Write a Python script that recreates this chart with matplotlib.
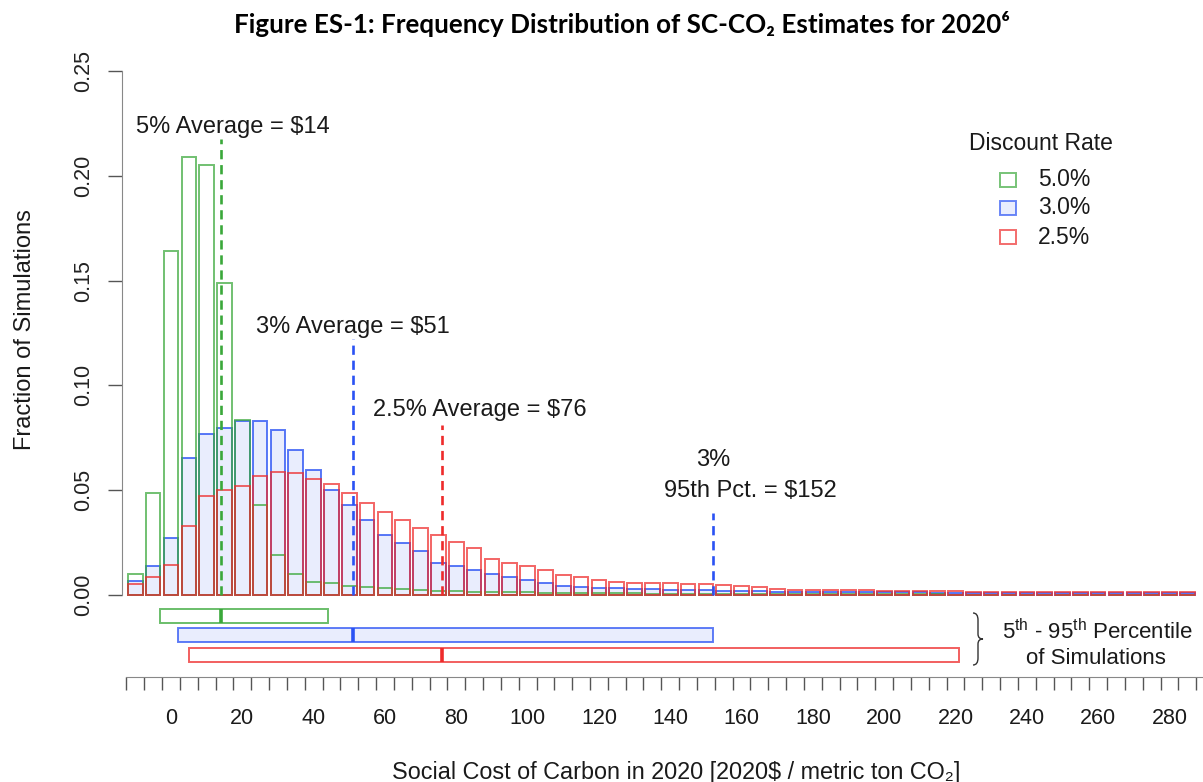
import matplotlib

matplotlib.use('Agg')

import matplotlib.pyplot as plt
import numpy as np
from matplotlib.patches import Rectangle, PathPatch
from matplotlib.path import Path

plt.rcParams['font.family'] = ['Liberation Sans', 'DejaVu Sans']
plt.rcParams['mathtext.fontset'] = 'custom'
plt.rcParams['mathtext.rm'] = 'Liberation Sans'

# histogram bins (centre of each 5$ bin)
bin_centers = np.arange(-10, 290, 5)

rate5 = [0.0100, 0.0487, 0.1640, 0.2090, 0.2050, 0.1490, 0.0837, 0.0430, 0.0191, 0.0100,
         0.0064, 0.0057, 0.0045, 0.0037, 0.0033, 0.0030, 0.0025, 0.0021, 0.0018, 0.0016,
         0.0014, 0.0013, 0.0012, 0.0011, 0.0010, 0.0009, 0.0009, 0.0008, 0.0008, 0.0007,
         0.0007, 0.0006, 0.0006, 0.0006, 0.0005, 0.0005, 0.0005, 0.0004, 0.0004, 0.0004,
         0.0004, 0.0003, 0.0003, 0.0003, 0.0003, 0.0003, 0.0002, 0.0002, 0.0002, 0.0002,
         0.0002, 0.0002, 0.0002, 0.0002, 0.0001, 0.0001, 0.0001, 0.0001, 0.0001, 0.0001]

rate3 = [0.0069, 0.0139, 0.0271, 0.0654, 0.0766, 0.0797, 0.0829, 0.0832, 0.0786, 0.0694,
         0.0595, 0.0500, 0.0428, 0.0356, 0.0286, 0.0247, 0.0212, 0.0155, 0.0139, 0.0120,
         0.0100, 0.0088, 0.0072, 0.0056, 0.0043, 0.0037, 0.0034, 0.0033, 0.0029, 0.0027,
         0.0025, 0.0024, 0.0022, 0.0021, 0.0019, 0.0018, 0.0016, 0.0015, 0.0015, 0.0014,
         0.0014, 0.0013, 0.0013, 0.0012, 0.0012, 0.0011, 0.0011, 0.0011, 0.0010, 0.0010,
         0.0010, 0.0010, 0.0009, 0.0009, 0.0009, 0.0009, 0.0008, 0.0008, 0.0008, 0.0008]

rate25 = [0.0053, 0.0085, 0.0142, 0.0327, 0.0470, 0.0502, 0.0521, 0.0566, 0.0589, 0.0582,
          0.0555, 0.0530, 0.0487, 0.0439, 0.0396, 0.0359, 0.0319, 0.0286, 0.0255, 0.0223,
          0.0174, 0.0155, 0.0139, 0.0120, 0.0094, 0.0088, 0.0072, 0.0064, 0.0059, 0.0057,
          0.0056, 0.0054, 0.0052, 0.0048, 0.0043, 0.0037, 0.0030, 0.0026, 0.0025, 0.0024,
          0.0025, 0.0023, 0.0020, 0.0019, 0.0018, 0.0018, 0.0017, 0.0016, 0.0016, 0.0015,
          0.0015, 0.0014, 0.0014, 0.0013, 0.0015, 0.0013, 0.0012, 0.0013, 0.0012, 0.0012]

# averages and 5th-95th percentiles
rate_labels = ['5.0%', '3.0%', '2.5%']
averages = [14, 51, 76]
pct05 = [-3, 2, 5]
pct95 = [44, 152, 221]

green = '#3aa83a'
blue = '#2a52f4'
red = '#ee2b2b'
blue_fill = '#e9edfd'

W, H = 1203, 782


def px_box(x0, y0, x1, y1):
    return [x0 / W, 1 - y1 / H, (x1 - x0) / W, (y1 - y0) / H]


def fx(x):
    return x / W


def fy(y):
    return 1 - y / H


fig = plt.figure(figsize=(W / 100, H / 100), dpi=100)

xlim = (-13.74, 289.4)

ax = fig.add_axes(px_box(122, 71, 1203, 601.3))
ax.patch.set_alpha(0)
ax.set_xlim(*xlim)
ax.set_ylim(-0.003, 0.25)

bw = 4.1
ax.bar(bin_centers, rate3, width=bw, color=blue_fill, edgecolor=blue + 'c8', linewidth=1.4, zorder=2)
ax.bar(bin_centers, rate5, width=bw, fill=False, edgecolor=green + 'b8', linewidth=1.4, zorder=3)
ax.bar(bin_centers, rate25, width=bw, fill=False, edgecolor=red + 'b8', linewidth=1.4, zorder=3)

for s in ['top', 'right', 'bottom']:
    ax.spines[s].set_visible(False)
ax.spines['left'].set_bounds(0, 0.25)
ax.spines['left'].set_color('#888888')
ax.tick_params(axis='x', bottom=False, labelbottom=False)
ax.set_yticks([0, 0.05, 0.10, 0.15, 0.20, 0.25])
ax.set_yticklabels(['0.00', '0.05', '0.10', '0.15', '0.20', '0.25'])
ax.tick_params(axis='y', length=10, width=1, color='#555555', labelsize=15.5,
               labelrotation=90, pad=10, labelcolor='#222222')
for t in ax.get_yticklabels():
    t.set_va('center')

# dashed average / percentile lines
dash = (0, (3.5, 2.2))
ax.vlines(averages[0], 0, 0.2177, colors=green, linestyles=dash, linewidth=1.9, zorder=4)
ax.vlines(averages[1], 0, 0.1220, colors=blue, linestyles=dash, linewidth=1.9, zorder=4)
ax.vlines(averages[2], 0, 0.0813, colors=red, linestyles=dash, linewidth=1.9, zorder=4)
ax.vlines(pct95[1], 0, 0.0392, colors=blue, linestyles=dash, linewidth=1.9, zorder=4)

tk = dict(fontsize=17, color='#1a1a1a', va='center')
ax.text(-9.8, 0.2233, '5% Average = $14', ha='left', **tk)
ax.text(51, 0.1279, '3% Average = $51', ha='center', **tk)
ax.text(56.6, 0.0883, '2.5% Average = $76', ha='left', **tk)
ax.text(152, 0.0644, '3%', ha='center', **tk)
ax.text(162.6, 0.0496, '95th Pct. = $152', ha='center', **tk)

# legend
fig.text(fx(1041), fy(143), 'Discount Rate', ha='center', va='center', fontsize=16.5, color='#1a1a1a')
leg_y = [179.5, 208, 237]
leg_face = ['white', blue_fill, 'white']
leg_edge = [green, blue, red]
for yy, lab, fc, ec in zip(leg_y, rate_labels, leg_face, leg_edge):
    fig.add_artist(Rectangle((fx(1000), fy(yy + 7)), 16 / W, 14 / H, transform=fig.transFigure,
                             facecolor=fc, edgecolor=ec + 'b0', linewidth=1.4))
    fig.text(fx(1038), fy(yy), lab, ha='left', va='center', fontsize=16.5, color='#1a1a1a')

# percentile bars
axb = fig.add_axes(px_box(122, 600, 1203, 677))
axb.patch.set_alpha(0)
axb.set_xlim(*xlim)
axb.set_ylim(0, 1)
rows = [0.79, 0.54, 0.29]
bh = 0.18
faces = ['white', blue_fill, 'white']
for lo, hi, av, yy, fc, ec in zip(pct05, pct95, averages, rows, faces, leg_edge):
    axb.add_patch(Rectangle((lo, yy - bh / 2), hi - lo, bh, facecolor=fc, edgecolor=ec + 'c0', linewidth=1.4))
    axb.vlines(av, yy - bh / 2, yy + bh / 2, colors=ec, linewidth=2.6)

for s in ['top', 'right', 'left']:
    axb.spines[s].set_visible(False)
axb.spines['bottom'].set_bounds(-12.5, xlim[1])
axb.spines['bottom'].set_color('#888888')
axb.set_yticks([])
axb.set_xticks(np.arange(-12.5, 290, 5), minor=True)
axb.set_xticks(range(0, 281, 20))
axb.tick_params(axis='x', which='minor', length=9.4, width=1, color='#555555')
axb.tick_params(axis='x', which='major', length=0, labelsize=15.5, pad=22, labelcolor='#1a1a1a')

# brace and percentile text
brace = [(973, 613), (978, 613), (978, 620), (978, 634), (978, 639), (983, 639),
         (978, 639), (978, 644), (978, 658), (978, 665), (973, 665)]
codes = [Path.MOVETO, Path.CURVE3, Path.CURVE3, Path.LINETO, Path.CURVE3, Path.CURVE3,
         Path.CURVE3, Path.CURVE3, Path.LINETO, Path.CURVE3, Path.CURVE3]
verts = [(fx(x), fy(y)) for x, y in brace]
fig.add_artist(PathPatch(Path(verts, codes), transform=fig.transFigure, fill=False,
                         edgecolor='#333333', linewidth=1.0))
fig.text(fx(1097), fy(632), r'5$^{\rm th}$ - 95$^{\rm th}$ Percentile', ha='center', va='center',
         fontsize=16, color='#1a1a1a')
fig.text(fx(1096), fy(658), 'of Simulations', ha='center', va='center', fontsize=16, color='#1a1a1a')

# axis titles
fig.text(fx(25), fy(330), 'Fraction of Simulations', rotation=90, ha='center', va='center',
         fontsize=17, color='#1a1a1a')
fig.text(fx(676), fy(772), 'Social Cost of Carbon in 2020 [2020$ / metric ton CO₂]', ha='center',
         va='center', fontsize=16.8, color='#1a1a1a')
fig.text(fx(622), fy(24), 'Figure ES-1: Frequency Distribution of SC-CO₂ Estimates for 2020⁶',
         ha='center', va='center', fontsize=18.7, fontweight='bold', family=['Lato', 'DejaVu Sans'])

fig.savefig('out.png', dpi=100)
